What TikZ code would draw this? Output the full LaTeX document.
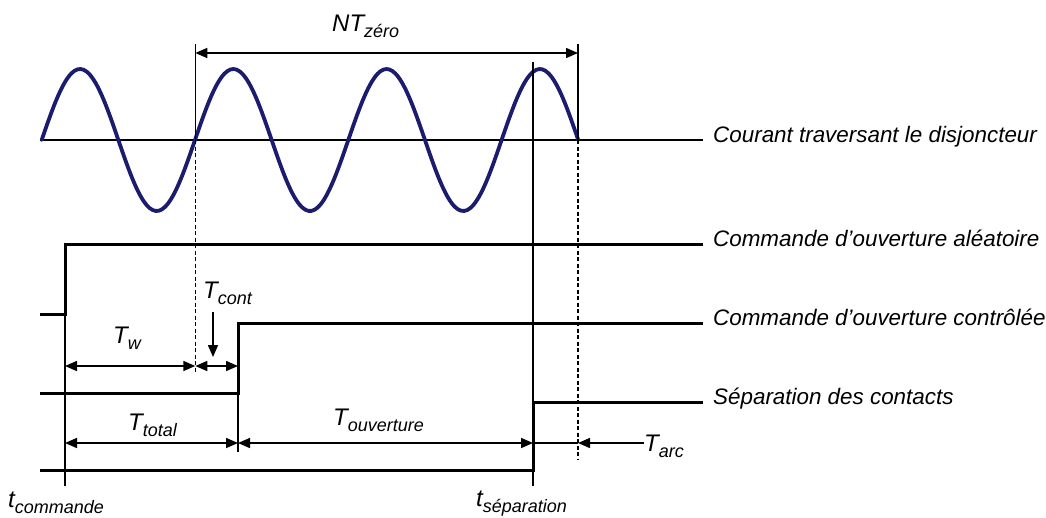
\documentclass[tikz,border=0pt]{standalone}
\usepackage{fontspec}
\setmainfont{Liberation Sans}
\usepackage{xcolor}
\usepackage{tikz}
\usetikzlibrary{arrows.meta, calc}
\definecolor{wavecol}{HTML}{1C1C6E}
\newcommand{\lowidx}[1]{\raisebox{-6pt}{\fontsize{18}{20}\selectfont #1}}
\tikzset{
  sig/.style={line width=3pt},
  guide/.style={line width=1.5pt},
  guidedash/.style={line width=1.5pt, dash pattern=on 4pt off 2.5pt},
  wave/.style={wavecol, line width=3.8pt, line cap=round},
  ar/.style={-{Triangle[length=12pt, width=10pt]}, line width=1.5pt},
  arb/.style={{Triangle[length=12pt, width=10pt]}-{Triangle[length=12pt, width=10pt]}, line width=1.5pt},
  lbl/.style={anchor=base west, inner sep=0pt, font=\fontsize{22.4}{24}\selectfont\itshape},
  tlbl/.style={anchor=base west, inner sep=0pt, font=\fontsize{24}{26}\selectfont\itshape},
}

\begin{document}
\begin{tikzpicture}[x=1pt, y=-1pt]
  \useasboundingbox (0,0) rectangle (1046,517);

  % instants
  \coordinate (xs) at (40,0);
  \coordinate (xc) at (65,0);
  \coordinate (xz) at (195.3,0);
  \coordinate (xk) at (213,0);
  \coordinate (xo) at (238,0);
  \coordinate (xp) at (533,0);
  \coordinate (xe) at (578,0);
  \coordinate (xr) at (703,0);
  % levels
  \coordinate (ytop) at (0,44);
  \coordinate (ynt) at (0,53);
  \coordinate (ysep) at (0,62);
  \coordinate (yax) at (0,140);
  \coordinate (yA1) at (0,244);
  \coordinate (yA0) at (0,314);
  \coordinate (yB1) at (0,323);
  \coordinate (yB0) at (0,393);
  \coordinate (yC1) at (0,402);
  \coordinate (yC0) at (0,470);
  \coordinate (yw) at (0,366);
  \coordinate (ytot) at (0,443);
  \coordinate (ybot) at (0,486);

  % labels
  \node[lbl] (lcur) at (713,142) {Courant traversant le disjoncteur};
  \node[lbl] (lale) at (713,246) {Commande d’ouverture aléatoire};
  \node[lbl] (lcon) at (713,325) {Commande d’ouverture contrôlée};
  \node[lbl] (lsep) at (713,404) {Séparation des contacts};
  \node[tlbl] (nt) at (332,31) {NT\lowidx{zéro}};
  \node[tlbl] (tw) at (113,343) {T\lowidx{w}};
  \node[tlbl] (tcont) at (203,298) {T\lowidx{cont}};
  \node[tlbl] (ttot) at (128,430) {T\lowidx{total}};
  \node[tlbl] (touv) at (333,425) {T\lowidx{ouverture}};
  \node[tlbl] (tarc) at (644,451) {T\lowidx{arc}};
  \node[tlbl] (tcmd) at (8,507) {t\lowidx{commande}};
  \node[tlbl] (tsep) at (476,506) {t\lowidx{séparation}};

  % current
  \draw[guide] (xs |- yax) -- (xr |- yax);
  \draw[wave] plot[smooth, samples=180, domain=0:1260] ({41.7+\x/360*153.3}, {140-71*sin(\x)});

  % signals
  \draw[sig] (xs |- yA0) -- (xc |- yA0) -- (xc |- yA1) -- (xr |- yA1);
  \draw[sig] (xs |- yB0) -- (xo |- yB0) -- (xo |- yB1) -- (xr |- yB1);
  \draw[sig] (xs |- yC0) -- (xp |- yC0) -- (xp |- yC1) -- (xr |- yC1);

  % guides
  \draw[guide] (xc |- yA0) -- (xc |- ybot);
  \draw[guide] (xp |- ysep) -- (xp |- ybot);
  \draw[guide] (xo |- yB0) -- (xo |- 0,452);
  \draw[guide] (xz |- ytop) -- (xz |- yax);
  \draw[guidedash] (xz |- yax) -- (xz |- 0,372);
  \draw[guide] (xe |- ytop) -- (xe |- yax);
  \draw[guidedash] (xe |- yax) -- (xe |- 0,460);

  % durations
  \draw[arb] (xz |- ynt) -- (xe |- ynt);
  \draw[arb] (xc |- yw) -- (xz |- yw);
  \draw[arb] (xz |- yw) -- (xo |- yw);
  \draw[ar] (xk |- 0,312) -- (xk |- 0,357);
  \draw[arb] (xc |- ytot) -- (xo |- ytot);
  \draw[arb] (xo |- ytot) -- (xp |- ytot);
  \draw[guide] (xp |- ytot) -- (xe |- ytot);
  \draw[ar] (tarc.west |- ytot) -- (xe |- ytot);
\end{tikzpicture}
\end{document}
